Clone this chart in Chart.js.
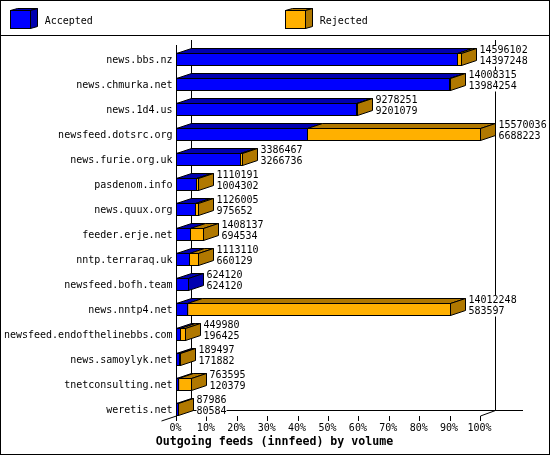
<!DOCTYPE html>
<html>
<head>
<meta charset="utf-8">
<style>
  html, body { margin: 0; padding: 0; background: #fff; }
  #wrap { width: 550px; height: 455px; position: relative; }
</style>
<script src="https://cdn.jsdelivr.net/npm/chart.js@4/dist/chart.umd.min.js"></script>
</head>
<body>
<div id="wrap"><canvas id="feeds"></canvas></div>
<script>
const hosts = ["news.bbs.nz", "news.chmurka.net", "news.1d4.us", "newsfeed.dotsrc.org", "news.furie.org.uk",
    "pasdenom.info", "news.quux.org", "feeder.erje.net", "nntp.terraraq.uk", "newsfeed.bofh.team",
    "news.nntp4.net", "newsfeed.endofthelinebbs.com", "news.samoylyk.net", "tnetconsulting.net", "weretis.net"];
const offered = [14596102, 14008315, 9278251, 15570036, 3386467, 1110191, 1126005, 1408137, 1113110, 624120,
    14012248, 449980, 189497, 763595, 87986];
const accepted = [14397248, 13984254, 9201079, 6688223, 3266736, 1004302, 975652, 694534, 660129, 624120,
    583597, 196425, 171882, 120379, 80584];
const rejected = [198854, 24061, 77172, 8881813, 119731, 105889, 150353, 713603, 452981, 0,
    13428651, 253555, 17615, 643216, 7402];
const percentTicks = [0, 10, 20, 30, 40, 50, 60, 70, 80, 90, 100];
const chartTitle = "Outgoing feeds (innfeed) by volume";

const MONO = "'DejaVu Sans Mono'";
const DX = 15, DY = 5; // profundidad del efecto 3D
const BLUE = "#0000ff", BLUE_DARK = "#0000b0", ORANGE = "#ffb000", BROWN = "#b07800";
const shades = [BLUE_DARK, BROWN];

const crisp = (v) => Math.floor(v) + 0.5;

function line(ctx, x1, y1, x2, y2) {
    ctx.beginPath();
    ctx.moveTo(x1, y1);
    ctx.lineTo(x2, y2);
    ctx.stroke();
}

function poly(ctx, pts, fill) {
    ctx.beginPath();
    pts.forEach((p, i) => (i ? ctx.lineTo(p[0], p[1]) : ctx.moveTo(p[0], p[1])));
    ctx.closePath();
    ctx.fillStyle = fill;
    ctx.fill();
    ctx.stroke();
}

// Marco, leyenda, titulo y paredes del fondo
const framePlugin = {
    id: "frame",
    beforeDatasetsDraw(chart) {
        const { ctx, scales: { x } } = chart;
        const left = crisp(x.getPixelForValue(0)), right = crisp(x.getPixelForValue(x.max));
        const floor = 415.5;
        ctx.save();
        ctx.strokeStyle = "#000";
        ctx.lineWidth = 1;
        ctx.strokeRect(0.5, 0.5, 549, 454);
        line(ctx, 0, 35.5, 550, 35.5);

        // leyenda
        const entries = [[10.5, 44.7], [285.5, 319.7]];
        chart.data.datasets.forEach((ds, i) => {
            const bx = entries[i][0], tx = entries[i][1], w = 20, h = 18, top = 10.5;
            poly(ctx, [[bx, top], [bx + 7, top - 2], [bx + 27, top - 2], [bx + 20, top]], shades[i]);
            poly(ctx, [[bx + w, top], [bx + 27, top - 2], [bx + 27, top + h - 2], [bx + w, top + h]], shades[i]);
            ctx.fillStyle = ds.backgroundColor;
            ctx.fillRect(bx, top, w, h);
            ctx.strokeRect(bx, top, w, h);
            ctx.fillStyle = "#000";
            ctx.font = "10px " + MONO;
            ctx.textBaseline = "middle";
            ctx.fillText(ds.label, tx, 21);
        });

        // titulo
        ctx.fillStyle = "#000";
        ctx.font = "bold 11.6px " + MONO;
        ctx.textAlign = "center";
        ctx.textBaseline = "middle";
        ctx.fillText(chartTitle, 274.5, 441.7);
        ctx.textAlign = "left";

        // ejes
        line(ctx, left + DX, 40, left + DX, floor - DY);
        line(ctx, right + DX, 40, right + DX, floor - DY);
        line(ctx, left + DX, floor - DY, 523, floor - DY);
        line(ctx, left, 45, left, 421);
        line(ctx, left - DX, 421, left, 416);
        line(ctx, right, 416, right + DX, floor - DY);
        percentTicks.forEach((p) => {
            const tx = crisp(x.getPixelForValue(p / 100 * x.max));
            line(ctx, tx, 416, tx, 421);
        });
        ctx.restore();
    }
};

// Caras superior y lateral de las barras, y etiquetas de valores
const depthPlugin = {
    id: "depth",
    afterDatasetsDraw(chart) {
        const { ctx, scales: { x } } = chart;
        ctx.save();
        ctx.strokeStyle = "#000";
        ctx.lineWidth = 1;
        hosts.forEach((host, i) => {
            let last = null;
            chart.data.datasets.forEach((ds, d) => {
                const bar = chart.getDatasetMeta(d).data[i];
                const x0 = crisp(bar.base), x1 = crisp(bar.x);
                const y0 = crisp(bar.y - 6), y1 = crisp(bar.y + 6);
                if (ds.data[i] <= 0) return;
                poly(ctx, [[x0, y0], [x0 + DX, y0 - DY], [x1 + DX, y0 - DY], [x1, y0]], shades[d]);
                last = { x1, y0, y1, d };
            });
            poly(ctx, [[last.x1, last.y0], [last.x1 + DX, last.y0 - DY], [last.x1 + DX, last.y1 - DY], [last.x1, last.y1]], shades[last.d]);
            chart.data.datasets.forEach((ds, d) => {
                const bar = chart.getDatasetMeta(d).data[i];
                if (ds.data[i] > 0) {
                    ctx.strokeRect(crisp(bar.base), crisp(bar.y - 6), crisp(bar.x) - crisp(bar.base), 12);
                }
            });

            // totales y aceptados, con fondo blanco como en el original
            ctx.font = "10px " + MONO;
            ctx.textBaseline = "middle";
            const tx = crisp(x.getPixelForValue(offered[i])) + DX + 3;
            const cy = chart.getDatasetMeta(0).data[i].y;
            [[offered[i], cy - 8.5], [accepted[i], cy + 2.5]].forEach(([value, ty]) => {
                const text = String(value);
                ctx.fillStyle = "#fff";
                ctx.fillRect(tx, ty - 5, ctx.measureText(text).width, 10);
                ctx.fillStyle = "#000";
                ctx.fillText(text, tx, ty);
            });
        });
        ctx.restore();
    }
};

function createFeedsChart() {
    const maxValue = Math.max(...offered);
    const ctx = document.getElementById("feeds").getContext("2d");
    new Chart(ctx, {
        type: "bar",
        data: {
            labels: hosts,
            datasets: [
                { label: "Accepted", data: accepted, backgroundColor: BLUE, barThickness: 12 },
                { label: "Rejected", data: rejected, backgroundColor: ORANGE, barThickness: 12 }
            ]
        },
        plugins: [framePlugin, depthPlugin],
        options: {
            indexAxis: "y",
            responsive: true,
            maintainAspectRatio: false,
            animation: false,
            layout: { padding: { top: 46.5, right: 69.5, left: 0, bottom: 20.3 } },
            scales: {
                x: {
                    stacked: true,
                    min: 0,
                    max: maxValue,
                    grid: { display: false, drawTicks: false },
                    border: { display: false },
                    afterBuildTicks: (axis) => { axis.ticks = percentTicks.map((p) => ({ value: p / 100 * maxValue })); },
                    afterFit: (axis) => { axis.height = 13.2; },
                    ticks: {
                        autoSkip: false,
                        maxRotation: 0,
                        padding: 1,
                        labelOffset: -1,
                        color: "#000",
                        font: { family: MONO, size: 10 },
                        callback: (value, index) => percentTicks[index] + "%"
                    }
                },
                y: {
                    stacked: true,
                    grid: { display: false, drawTicks: false },
                    border: { display: false },
                    afterFit: (axis) => { axis.width = 176.5; },
                    ticks: {
                        autoSkip: false,
                        padding: 4,
                        labelOffset: 1,
                        color: "#000",
                        font: { family: MONO, size: 10 }
                    }
                }
            },
            plugins: {
                legend: { display: false },
                tooltip: { enabled: false },
                title: { display: false }
            }
        }
    });
}

document.addEventListener("DOMContentLoaded", createFeedsChart);
</script>
</body>
</html>
